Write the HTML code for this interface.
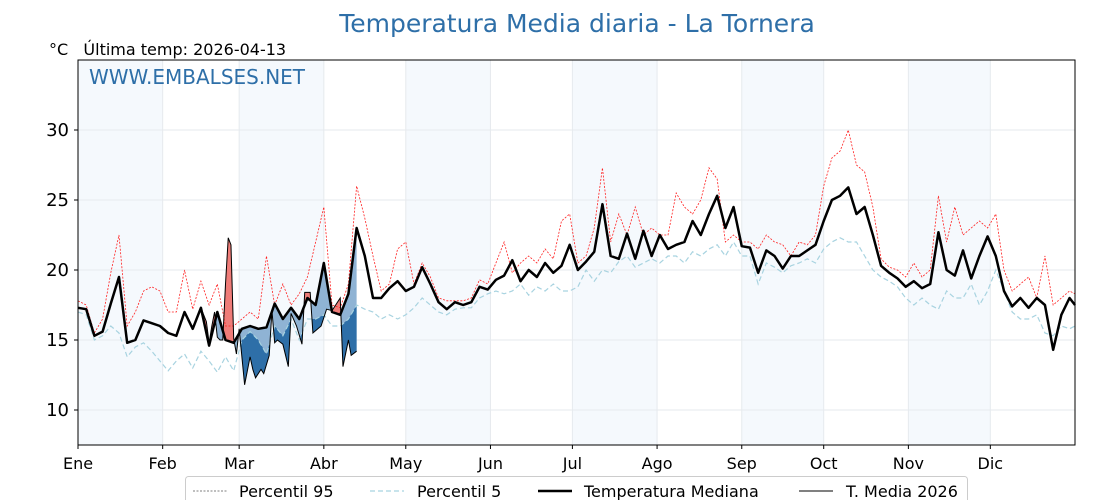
<!DOCTYPE html>
<html><head><meta charset="utf-8"><style>
body{margin:0;background:#fff;}
svg{display:block;font-family:"DejaVu Sans","Liberation Sans",sans-serif;}
text{white-space:pre;}
</style></head><body>
<svg id="chart" width="1120" height="500" viewBox="0 0 1120 500" xmlns="http://www.w3.org/2000/svg">
<text x="577" y="32" text-anchor="middle" font-size="25" fill="#2e6fa8">Temperatura Media diaria - La Tornera</text>
<text x="49" y="55" font-size="16" fill="#000" xml:space="preserve">°C   Última temp: 2026-04-13</text>
<g id="bands"></g>
<g id="grid"></g>
<g id="fills"></g>
<g id="lines"></g>
<text x="89" y="84" font-size="20" fill="#2e6fa8">WWW.EMBALSES.NET</text>
<rect x="78" y="60" width="997" height="385" fill="none" stroke="#000" stroke-width="1"/>
<g id="axes"></g>
<g>
<rect x="185.5" y="476.5" width="782" height="30" rx="3" fill="#fff" stroke="#ccc"/>
<g><line x1="193" y1="491" x2="227" y2="491" stroke="#555" stroke-width="0.8" stroke-dasharray="2,1.5"/><text x="239" y="497" font-size="16">Percentil 95</text></g>
<g><line x1="370" y1="491" x2="404" y2="491" stroke="#a8d3e0" stroke-width="1.2" stroke-dasharray="5,3"/><text x="417" y="497" font-size="16">Percentil 5</text></g>
<g><line x1="538" y1="491" x2="572" y2="491" stroke="#000" stroke-width="2.5"/><text x="584" y="497" font-size="16">Temperatura Mediana</text></g>
<g><line x1="799" y1="491" x2="833" y2="491" stroke="#000" stroke-width="1"/><text x="846" y="497" font-size="16">T. Media 2026</text></g>
</g>
</svg>
<script>
const monthLabels=["Ene","Feb","Mar","Abr","May","Jun","Jul","Ago","Sep","Oct","Nov","Dic"];
const monthStartDays=[0,31,59,90,120,151,181,212,243,273,304,334];
const yTicks=[10,15,20,25,30];
const stepDays=3;
const median=[17.3,17.2,15.3,15.6,17.6,19.5,14.8,15.0,16.4,16.2,16.0,15.5,15.3,17.0,15.8,17.3,14.6,17.0,15.0,14.8,15.8,16.0,15.8,15.9,17.6,16.5,17.3,16.5,18.0,17.5,20.5,17.0,16.8,18.3,23.0,21.0,18.0,18.0,18.7,19.2,18.5,18.8,20.2,19.0,17.7,17.2,17.7,17.5,17.7,18.8,18.6,19.3,19.6,20.7,19.2,20.0,19.5,20.5,19.8,20.3,21.8,20.0,20.6,21.3,24.7,21.0,20.8,22.6,20.8,22.8,21.0,22.5,21.5,21.8,22.0,23.5,22.5,24.0,25.3,23.0,24.5,
21.7,21.6,19.8,21.4,21.0,20.1,21.0,21.0,21.4,21.8,23.5,25.0,25.3,25.9,24.0,24.5,22.5,20.3,19.8,19.4,18.8,19.2,18.7,19.0,22.7,20.0,19.6,21.4,19.4,21.0,22.4,21.0,18.5,17.4,18.0,17.3,18.0,17.5,14.3,16.8,18.0,17.5];
const p95=[17.8,17.5,15.5,16.5,19.8,22.5,16.0,17.0,18.5,18.8,18.5,17.0,17.0,20.0,17.2,19.2,17.5,19.0,16.0,16.0,16.5,17.0,16.5,21.0,17.5,19.0,17.5,18.3,19.5,22.0,24.5,17.5,17.3,19.0,26.0,23.7,21.0,18.5,19.0,21.5,22.0,19.0,20.5,19.5,18.0,17.8,17.8,17.8,18.0,19.3,19.0,20.5,22.0,19.8,20.5,21.0,20.5,21.5,20.8,23.5,24.0,20.5,21.0,23.0,27.3,22.0,24.0,22.5,24.5,22.5,23.0,22.5,22.5,25.5,24.5,24.0,25.0,27.3,26.5,22.0,22.5,22.0,22.0,21.5,22.5,22.0,21.8,21.0,22.0,21.8,22.5,26.0,28.0,28.5,30.0,27.5,27.0,24.5,20.8,20.2,20.0,19.5,20.5,19.5,20.0,25.3,22.0,24.5,22.5,23.0,23.5,23.0,24.0,20.0,18.5,19.0,19.5,18.0,21.0,17.5,18.0,18.5,18.3];
const p5=[17.0,16.8,15.0,15.3,16.0,15.5,13.8,14.5,14.8,14.2,13.5,12.8,13.5,14.0,13.0,14.2,13.5,12.7,13.8,12.8,15.0,15.6,15.0,14.0,16.0,15.3,16.5,15.0,16.5,16.5,16.8,16.0,16.0,16.5,17.5,17.2,17.0,16.5,16.8,16.5,16.8,17.3,18.0,17.5,17.0,16.8,17.2,17.3,17.3,18.0,18.3,18.5,18.3,18.5,19.0,18.2,18.8,18.5,19.0,18.5,18.5,18.8,20.0,19.2,20.0,19.8,20.6,21.0,20.2,20.5,20.8,20.5,21.0,21.0,20.5,21.3,21.0,21.5,21.8,21.0,22.0,
21.0,21.0,19.0,20.5,20.2,19.8,20.3,20.5,20.8,20.5,21.5,22.0,22.3,22.0,22.0,21.0,20.0,19.5,19.2,18.8,18.0,17.5,18.0,17.5,17.2,18.5,18.0,18.0,19.0,17.5,18.5,20.0,18.5,17.0,16.5,16.5,16.8,15.5,15.3,16.0,15.8,16.0];
const days2026=[0,3,6,9,12,15,18,21,24,27,30,33,36,39,42,45,47,48,49,50,51,52,53,54,55,56,57,58,59,61,63,64,65,67,68,70,71,72,73,75,77,78,80,82,83,85,86,89,91,93,96,97,99,100,102];
const temp2026=[17.3,17.2,15.3,15.6,17.6,19.5,14.8,15.0,16.4,16.2,16.0,15.5,15.3,17.0,15.8,17.3,16.3,14.8,16.0,17.0,15.2,15.0,15.0,19.0,22.3,21.8,15.1,14.0,15.8,11.8,13.8,12.9,12.3,12.9,12.6,13.9,17.1,14.8,15.0,14.7,13.1,16.9,16.0,14.7,18.4,18.4,15.5,16.0,17.2,17.1,18.0,13.1,15.0,13.9,14.2];

const X0=78,X1=1075,Y0=445,Y1=60,VMIN=7.5,VMAX=35;
const xS=d=>X0+d*(X1-X0)/365;
const yS=v=>Y0-(v-VMIN)*(Y0-Y1)/(VMAX-VMIN);
const NS="http://www.w3.org/2000/svg";
function mk(tag,attrs,parent){const e=document.createElementNS(NS,tag);for(const k in attrs)e.setAttribute(k,attrs[k]);parent.appendChild(e);return e;}
const bands=document.getElementById('bands'),grid=document.getElementById('grid'),fills=document.getElementById('fills'),lines=document.getElementById('lines'),axes=document.getElementById('axes');
const bounds=monthStartDays.concat([365]);
for(let i=0;i<12;i+=2){const r=mk('rect',{x:xS(bounds[i]),y:Y1,width:xS(bounds[i+1])-xS(bounds[i]),height:Y0-Y1,fill:'#f5f9fd'},bands);

}
monthStartDays.forEach((d,i)=>{const l=mk('line',{x1:xS(d),x2:xS(d),y1:Y1,y2:Y0,stroke:'#e6eaee','stroke-width':1},grid);


const t=mk('text',{x:xS(d),y:469,'text-anchor':'middle','font-size':16},axes);t.textContent=monthLabels[i];


const tk=mk('line',{x1:xS(d),x2:xS(d),y1:Y0,y2:Y0+4,stroke:'#000'},axes);

});
yTicks.forEach(v=>{const l=mk('line',{x1:X0,x2:X1,y1:yS(v),y2:yS(v),stroke:'#e6eaee','stroke-width':1},grid);


const t=mk('text',{x:69,y:yS(v)+6,'text-anchor':'end','font-size':18},axes);t.textContent=v;


const tk=mk('line',{x1:X0-4,x2:X0,y1:yS(v),y2:yS(v),stroke:'#000'},axes);

});
const gridDays=median.map((_,i)=>Math.min(i*stepDays,365));
function interp(ds,vs,d){if(d<=ds[0])return vs[0];for(let i=1;i<ds.length;i++){if(d<=ds[i]){const t=(d-ds[i-1])/(ds[i]-ds[i-1]);return vs[i-1]+t*(vs[i]-vs[i-1]);}}return vs[vs.length-1];}
const last=days2026[days2026.length-1];
const samp=[];for(let d=0;d<=last;d+=0.25)samp.push(d);
function band(fn,color){let top=samp.map(d=>xS(d)+','+yS(fn(d)[0]));let bot=samp.slice().reverse().map(d=>xS(d)+','+yS(fn(d)[1]));
const p=mk('polygon',{points:top.concat(bot).join(' '),fill:color},fills);return p;}
const m=d=>interp(gridDays,median,d),lo=d=>interp(gridDays,p5,d),t26=d=>interp(days2026,temp2026,d);
let f1=band(d=>[m(d),Math.min(t26(d),m(d))],'#8fb3d4');


let f2=band(d=>[lo(d),Math.min(t26(d),lo(d))],'#2e6fa8');


let f3=band(d=>[Math.max(t26(d),m(d)),m(d)],'#ef7c78');


function pl(ds,vs,attrs){return mk('polyline',Object.assign({points:ds.map((d,i)=>xS(d)+','+yS(vs[i])).join(' '),fill:'none'},attrs),lines);}
let l1=pl(gridDays,p95,{stroke:'#ff2020','stroke-width':0.8,'stroke-dasharray':'2,1.5'});


let l2=pl(gridDays,p5,{stroke:'#a8d3e0','stroke-width':1.2,'stroke-dasharray':'5,3'});


let l3=pl(gridDays,median,{stroke:'#000','stroke-width':2.5,'stroke-linejoin':'round'});


let l4=pl(days2026,temp2026,{stroke:'#000','stroke-width':1});


</script>
</body></html>
